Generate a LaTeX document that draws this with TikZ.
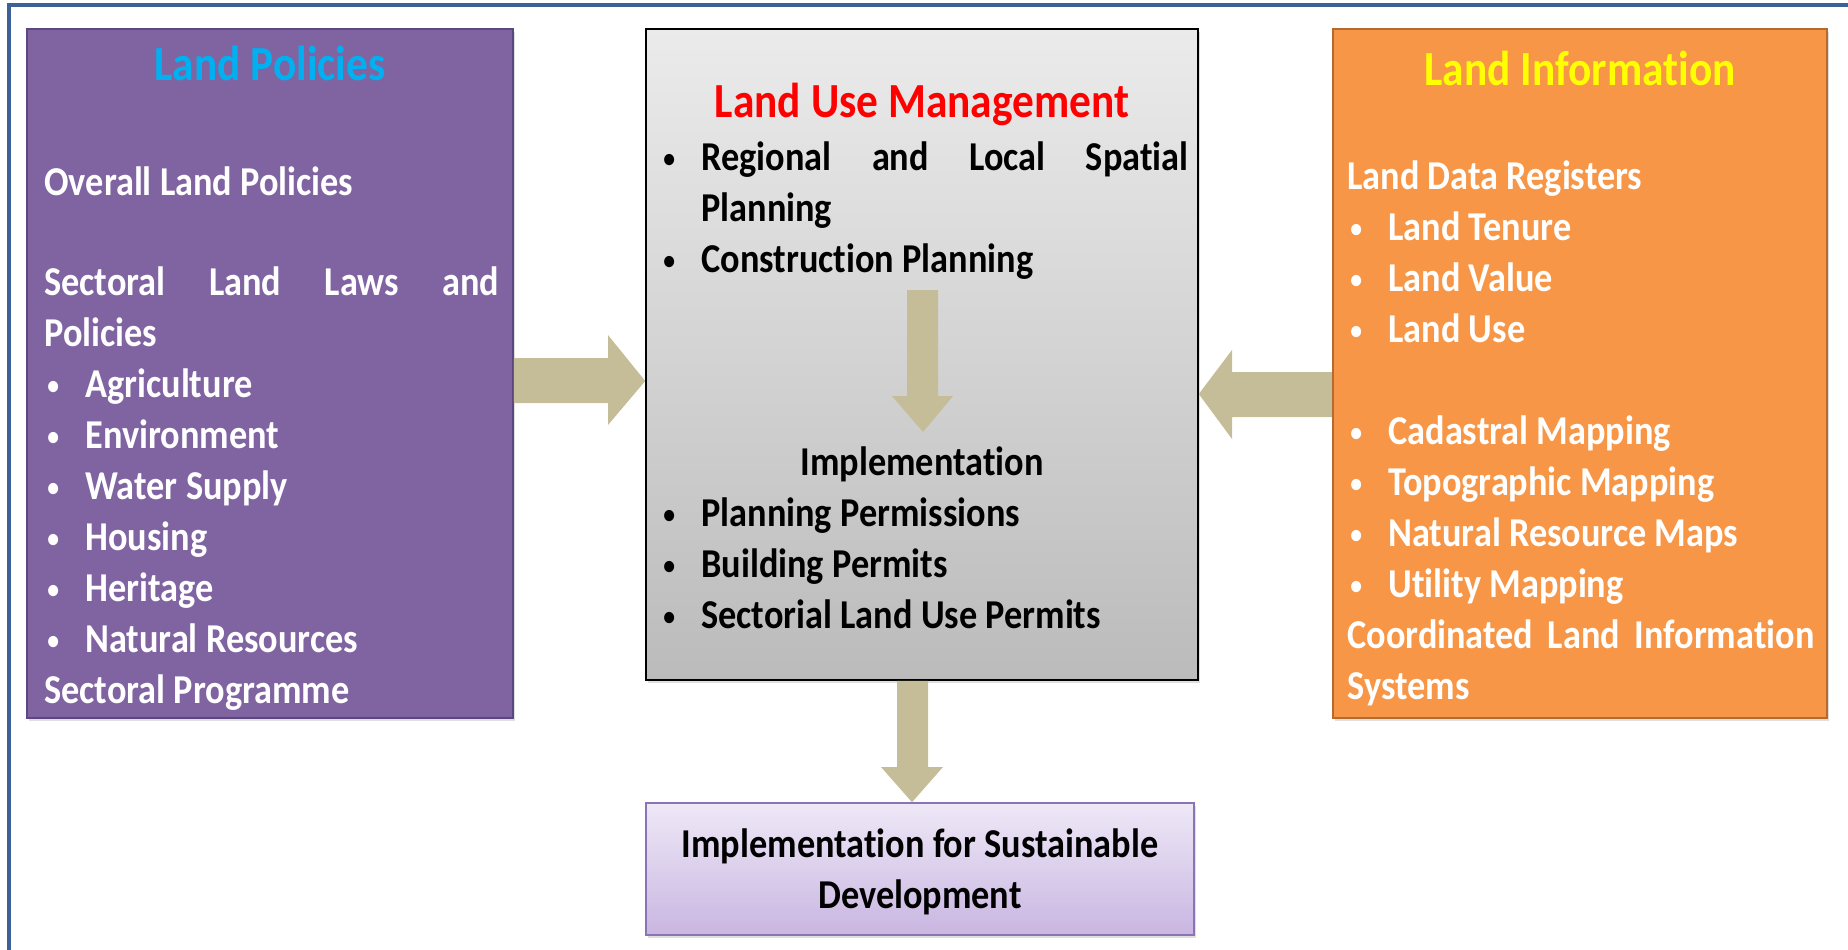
\documentclass[tikz,border=0pt]{standalone}
\usepackage{graphicx}
\usepackage{fontspec}
\setmainfont{Carlito}[FakeStretch=0.885, Ligatures=NoCommon]
\usetikzlibrary{fit,shadows}
\definecolor{framec}{HTML}{3D6096}
\definecolor{lpfill}{HTML}{8064A2}
\definecolor{lpdraw}{HTML}{5C4780}
\definecolor{lifill}{HTML}{F79646}
\definecolor{lidraw}{HTML}{B56A2F}
\definecolor{lumtop}{HTML}{EBEBEB}
\definecolor{lumbot}{HTML}{BBBBBB}
\definecolor{sdtop}{HTML}{EEE8F7}
\definecolor{sdbot}{HTML}{C9B6E1}
\definecolor{sddraw}{HTML}{8B74B4}
\definecolor{arrowc}{HTML}{C4BD97}
\definecolor{lpt}{HTML}{00B0F0}
\definecolor{lit}{HTML}{FFFF00}
\definecolor{lumt}{HTML}{FF0000}
\newcommand\bodyf{\bfseries\fontsize{20.5}{24}\selectfont}
\newcommand\titlef{\bfseries\fontsize{24.5}{30}\selectfont}
\newcommand\bul{\makebox[19pt][l]{\raisebox{1.5pt}{\scalebox{0.65}{•}}}}
\begin{document}
\begin{tikzpicture}[x=0.5pt,y=-0.5pt,
  box/.style={inner sep=0pt, line width=0.8pt, drop shadow={opacity=0.25, shadow xshift=1pt, shadow yshift=-1.5pt}},
  ttl/.style={anchor=base, inner sep=0pt, font=\titlef},
  ln/.style={anchor=base west, inner sep=0pt, font=\bodyf},
  cln/.style={anchor=base, inner sep=0pt, font=\bodyf},
  blockarrow/.style={fill=arrowc}]
\useasboundingbox (0,0) rectangle (1848,949);
\clip (0,0) rectangle (1848,949);
\draw[framec, line width=2pt] (9,1000) -- (9,5) -- (1900,5);

% boxes
\node[box, fit={(27,29) (513,718)}, fill=lpfill, draw=lpdraw] (lp) {};
\node[box, fit={(646,29) (1198,680)}, top color=lumtop, bottom color=lumbot, draw=black] (lum) {};
\node[box, fit={(1333,29) (1827,718)}, fill=lifill, draw=lidraw, line width=1.2pt] (li) {};
\node[box, fit={(646,803) (1194,935)}, top color=sdtop, bottom color=sdbot, draw=sddraw] (sd) {};

% arrows
\fill[blockarrow] (lp.east |- 0,358) -- (608,358) -- (608,335) -- (lum.west |- 0,381)
  -- (608,425) -- (608,403) -- (lp.east |- 0,403) -- cycle;
\fill[blockarrow] (li.west |- 0,372) -- (1232,372) -- (1232,350) -- (lum.east |- 0,394)
  -- (1232,439) -- (1232,417) -- (li.west |- 0,417) -- cycle;
\fill[blockarrow] (907,290) -- (938,290) -- (938,396) -- (953,396) -- (923,432)
  -- (892,396) -- (907,396) -- cycle;
\fill[blockarrow] (897,0 |- lum.south) -- (928,0 |- lum.south) -- (928,767) -- (943,767)
  -- (912,0 |- sd.north) -- (881,767) -- (897,767) -- cycle;

% Land Policies
\node[ttl, text=lpt] (lpT) at (270,80) {Land Policies};
\begin{scope}[every node/.append style={text=white}]
\node[ln] (lp1) at (44,195) {Overall Land Policies};
\node[ln] (lp2) at (44,295) {\hbox to 227.5pt{Sectoral\hfill Land\hfill Laws\hfill and}};
\node[ln] (lp3) at (44,346) {Policies};
\node[ln] (lp4) at (47,397) {\bul Agriculture};
\node[ln] (lp5) at (47,448) {\bul Environment};
\node[ln] (lp6) at (47,499) {\bul Water Supply};
\node[ln] (lp7) at (47,550) {\bul Housing};
\node[ln] (lp8) at (47,601) {\bul Heritage};
\node[ln] (lp9) at (47,652) {\bul Natural Resources};
\node[ln] (lp10) at (44,703) {Sectoral Programme};
\end{scope}

% Land Use Management
\node[ttl, text=lumt] (lumT) at (922,117) {Land Use Management};
\node[ln] (lu1) at (663,170) {\bul\hbox to 243.5pt{Regional\hfill and\hfill Local\hfill Spatial}};
\node[ln] (lu2) at (701,221) {Planning};
\node[ln] (lu3) at (663,272) {\bul Construction Planning};
\node[cln] (lu4) at (922,475) {Implementation};
\node[ln] (lu5) at (663,526) {\bul Planning Permissions};
\node[ln] (lu6) at (663,577) {\bul Building Permits};
\node[ln] (lu7) at (663,628) {\bul Sectorial Land Use Permits};

% Land Information
\node[ttl, text=lit] (liT) at (1580,85) {Land Information};
\begin{scope}[every node/.append style={text=white}]
\node[ln] (li1) at (1347,189) {Land Data Registers};
\node[ln] (li2) at (1350,240) {\bul Land Tenure};
\node[ln] (li3) at (1350,291) {\bul Land Value};
\node[ln] (li4) at (1350,342) {\bul Land Use};
\node[ln] (li5) at (1350,444) {\bul Cadastral Mapping};
\node[ln] (li6) at (1350,495) {\bul Topographic Mapping};
\node[ln] (li7) at (1350,546) {\bul Natural Resource Maps};
\node[ln] (li8) at (1350,597) {\bul Utility Mapping};
\node[ln] (li9) at (1347,648) {\hbox to 233.5pt{Coordinated\hfill Land\hfill Information}};
\node[ln] (li10) at (1347,699) {Systems};
\end{scope}

% Sustainable development
\node[cln] (sd1) at (920,857) {Implementation for Sustainable};
\node[cln] (sd2) at (920,908) {Development};
\end{tikzpicture}
\end{document}
